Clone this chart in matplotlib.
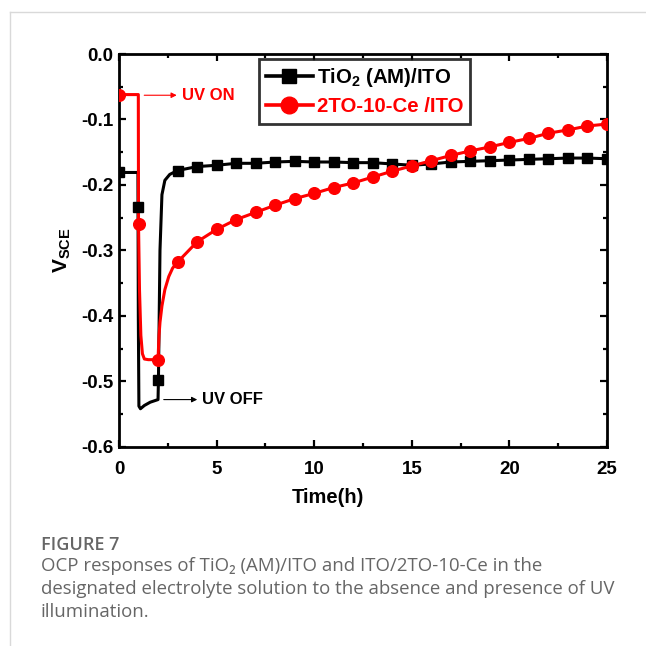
import numpy as np
import matplotlib
matplotlib.use("Agg")
import matplotlib.pyplot as plt
from matplotlib.lines import Line2D
from matplotlib.ticker import MultipleLocator, FormatStrFormatter

# ---- data ----
# TiO2 (AM)/ITO : continuous trace
tio2_line_t = [0, 0.97, 0.99, 1.02, 1.1, 1.3, 1.6, 2.0, 2.02, 2.06, 2.1, 2.2, 2.35, 2.6,
               3, 4, 5, 6, 7, 8, 9, 10, 11, 12, 13, 14, 15, 16, 17, 18, 19, 20, 21, 22, 23, 24, 25]
tio2_line_v = [-0.181, -0.181, -0.40, -0.538, -0.542, -0.537, -0.532, -0.528, -0.50, -0.40, -0.30, -0.215, -0.193, -0.184,
               -0.178, -0.172, -0.170, -0.167, -0.167, -0.165, -0.164, -0.165, -0.165, -0.166, -0.166, -0.168, -0.170,
               -0.168, -0.165, -0.164, -0.163, -0.162, -0.161, -0.160, -0.159, -0.159, -0.160]
# TiO2 markers (hourly)
tio2_mark_t = [0, 0.97, 2.0, 3, 4, 5, 6, 7, 8, 9, 10, 11, 12, 13, 14, 15, 16, 17, 18, 19, 20, 21, 22, 23, 24, 25]
tio2_mark_v = [-0.181, -0.233, -0.498, -0.178, -0.172, -0.170, -0.167, -0.167, -0.165, -0.164, -0.165, -0.165,
               -0.166, -0.166, -0.168, -0.170, -0.168, -0.165, -0.164, -0.163, -0.162, -0.161, -0.160, -0.159,
               -0.159, -0.160]

# 2TO-10-Ce /ITO : continuous trace
ce_line_t = [0, 0.99, 1.0, 1.05, 1.12, 1.2, 1.3, 1.5, 2.0, 2.05, 2.1, 2.2, 2.35, 2.55, 2.75,
             3, 4, 5, 6, 7, 8, 9, 10, 11, 12, 13, 14, 15, 16, 17, 18, 19, 20, 21, 22, 23, 24, 25]
ce_line_v = [-0.062, -0.062, -0.26, -0.36, -0.43, -0.458, -0.466, -0.467, -0.467, -0.43, -0.41, -0.385, -0.36, -0.34, -0.327,
             -0.318, -0.287, -0.268, -0.253, -0.242, -0.231, -0.221, -0.213, -0.204, -0.197, -0.188, -0.179, -0.171,
             -0.163, -0.155, -0.148, -0.142, -0.135, -0.129, -0.121, -0.116, -0.110, -0.107]
ce_mark_t = [0, 1, 2, 3, 4, 5, 6, 7, 8, 9, 10, 11, 12, 13, 14, 15, 16, 17, 18, 19, 20, 21, 22, 23, 24, 25]
ce_mark_v = [-0.062, -0.26, -0.467, -0.318, -0.287, -0.268, -0.253, -0.242, -0.231, -0.221, -0.213, -0.204,
             -0.197, -0.188, -0.179, -0.171, -0.163, -0.155, -0.148, -0.142, -0.135, -0.129, -0.121, -0.116,
             -0.110, -0.107]

labels = [r"TiO$_\mathbf{2}$ (AM)/ITO", "2TO-10-Ce /ITO"]
colors = ["black", "#ff0000"]

plt.rcParams["font.family"] = ["Liberation Sans", "DejaVu Sans"]
plt.rcParams["mathtext.fontset"] = "custom"
plt.rcParams["mathtext.rm"] = "Liberation Sans"
plt.rcParams["mathtext.bf"] = "Liberation Sans:bold"

fig = plt.figure(figsize=(6.46, 6.46), dpi=100)
ax = fig.add_axes([0.1842, 0.3085, 0.7554, 0.6079])

ax.plot(tio2_line_t, tio2_line_v, color=colors[0], lw=2.2, zorder=3)
ax.plot(tio2_mark_t, tio2_mark_v, ls="none", marker="s", ms=7, color=colors[0], zorder=4)
ax.plot(ce_line_t, ce_line_v, color=colors[1], lw=2.2, zorder=3)
ax.plot(ce_mark_t, ce_mark_v, ls="none", marker="o", ms=8.4, color=colors[1], zorder=4)

ax.set_xlim(0, 25)
ax.set_ylim(-0.6, 0.0)
ax.xaxis.set_major_locator(MultipleLocator(5))
ax.xaxis.set_minor_locator(MultipleLocator(2.5))
ax.yaxis.set_major_locator(MultipleLocator(0.1))
ax.yaxis.set_minor_locator(MultipleLocator(0.05))
ax.yaxis.set_major_formatter(FormatStrFormatter("%.1f"))
ax.tick_params(which="both", direction="in", top=True, right=True, width=1.6)
ax.tick_params(which="major", length=5, labelsize=13.5)
ax.tick_params(which="minor", length=3)
ax.tick_params(axis="x", which="major", pad=10)
ax.tick_params(axis="y", which="major", pad=4)
for lab in ax.get_xticklabels() + ax.get_yticklabels():
    lab.set_fontweight("bold")
for s in ax.spines.values():
    s.set_linewidth(2)

ax.set_xlabel("Time(h)", fontsize=14.5, fontweight="bold")
ax.xaxis.set_label_coords(0.428, -0.104)
ax.set_ylabel(r"V$_\mathbf{SCE}$", fontsize=15, fontweight="bold", labelpad=6)

# annotations
ax.annotate("", xy=(3.1, -0.063), xytext=(1.15, -0.063),
            arrowprops=dict(arrowstyle="-|>", color=colors[1], lw=0.8, mutation_scale=8))
ax.text(3.25, -0.063, "UV ON", color=colors[1], fontsize=12, fontweight="bold", va="center")
ax.annotate("", xy=(4.15, -0.528), xytext=(2.15, -0.528),
            arrowprops=dict(arrowstyle="-|>", color="black", lw=0.8, mutation_scale=8))
ax.text(4.25, -0.528, "UV OFF", color="black", fontsize=12, fontweight="bold", va="center")

handles = [Line2D([], [], color=colors[0], lw=2.6, marker="s", ms=9.5),
           Line2D([], [], color=colors[1], lw=2.6, marker="o", ms=12)]
leg = ax.legend(handles, labels, loc="upper left", bbox_to_anchor=(0.286, 0.988), frameon=True,
                fancybox=False, edgecolor="black", fontsize=14.7, handlelength=2.3,
                handletextpad=0.2, borderpad=0.35, labelspacing=0.42, borderaxespad=0)
leg.get_frame().set_linewidth(2)
for txt, c in zip(leg.get_texts(), colors):
    txt.set_color(c)
    txt.set_fontweight("bold")

# caption
cap_color = "#666666"
cap_family = ["Open Sans", "DejaVu Sans"]
fig.text(41 / 646, 1 - 545.5 / 646, "FIGURE 7", fontsize=13, color=cap_color, va="center",
         family=cap_family, fontweight="semibold")
cap_lines = ["OCP responses of TiO₂ (AM)/ITO and ITO/2TO-10-Ce in the",
             "designated electrolyte solution to the absence and presence of UV",
             "illumination."]
for i, line in enumerate(cap_lines):
    fig.text(41 / 646, 1 - (566 + 23 * i) / 646, line, fontsize=13.4, color=cap_color, va="center",
             family=cap_family)

# page frame lines
fig.add_artist(Line2D([9.5 / 646, 9.5 / 646], [0, 1 - 11.5 / 646], color="#d9d9d9", lw=1,
                      transform=fig.transFigure))
fig.add_artist(Line2D([9.5 / 646, 1], [1 - 11.5 / 646, 1 - 11.5 / 646], color="#d9d9d9", lw=1,
                      transform=fig.transFigure))

fig.savefig("out.png", dpi=100)
